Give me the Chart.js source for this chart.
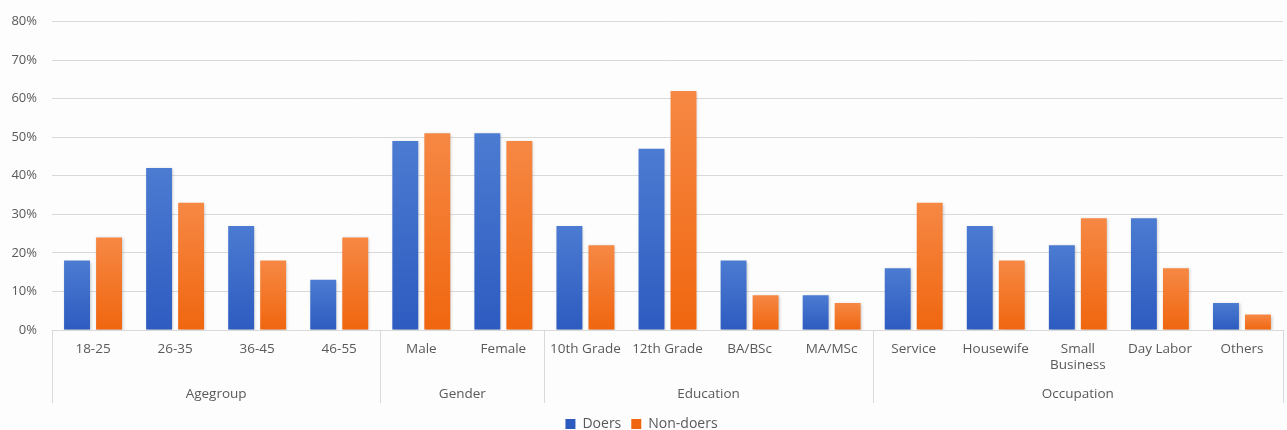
<!DOCTYPE html>
<html>
<head>
<meta charset="utf-8">
<script src="https://cdn.jsdelivr.net/npm/chart.js@4"></script>
<style>
  html, body { margin: 0; padding: 0; background: #fdfdfd; }
  #wrap { width: 1287px; height: 430px; }
</style>
</head>
<body>
<div id="wrap"><canvas id="barChart"></canvas></div>
<script>
// chart values
const categories = [
  "18-25", "26-35", "36-45", "46-55",
  "Male", "Female",
  "10th Grade", "12th Grade", "BA/BSc", "MA/MSc",
  "Service", "Housewife", ["Small", "Business"], "Day Labor", "Others"
];
const groupNames = ["Agegroup", "Gender", "Education", "Occupation"];
const groupSizes = [4, 2, 4, 5];
const doers = [18, 42, 27, 13, 49, 51, 27, 47, 18, 9, 16, 27, 22, 29, 7];
const nonDoers = [24, 33, 18, 24, 51, 49, 22, 62, 9, 7, 33, 18, 29, 16, 4];
const yMax = 80;
const yStep = 10;

const textColor = "#595959";
const lineColor = "#d9d9d9";
const fontFamily = "'Open Sans', sans-serif";

// per-bar vertical gradient, like the office style bars
function barGradient(top, bottom) {
  return function (context) {
    const chart = context.chart;
    if (!chart.chartArea || context.raw == null) return bottom;
    const y = chart.scales.y;
    const g = chart.ctx.createLinearGradient(0, y.getPixelForValue(context.raw), 0, y.getPixelForValue(0));
    g.addColorStop(0, top);
    g.addColorStop(1, bottom);
    return g;
  };
}

// soft shadow behind the bars
const shadowPlugin = {
  id: "barShadow",
  beforeDatasetsDraw(chart) {
    const ctx = chart.ctx;
    ctx.save();
    ctx.shadowColor = "rgba(0,0,0,0.22)";
    ctx.shadowBlur = 3;
    ctx.shadowOffsetX = 1;
    ctx.shadowOffsetY = 1;
  },
  afterDatasetsDraw(chart) {
    chart.ctx.restore();
  }
};

// group row under the category labels, with separators
const groupPlugin = {
  id: "groupAxis",
  afterDraw(chart) {
    const ctx = chart.ctx;
    const x = chart.scales.x;
    const half = (x.right - x.left) / categories.length / 2;
    const top = chart.chartArea.bottom;
    const bottom = top + 73;
    ctx.save();
    ctx.strokeStyle = lineColor;
    ctx.lineWidth = 1;
    ctx.fillStyle = textColor;
    ctx.font = "13.5px " + fontFamily;
    ctx.textAlign = "center";
    ctx.textBaseline = "middle";
    let start = 0;
    const edges = [x.left];
    groupSizes.forEach((size, i) => {
      const end = start + size - 1;
      const left = x.getPixelForValue(start) - half;
      const right = x.getPixelForValue(end) + half;
      edges.push(right);
      ctx.fillText(groupNames[i], (left + right) / 2, top + 64);
      start += size;
    });
    edges.forEach((ex) => {
      const px = Math.round(ex) + 0.5;
      ctx.beginPath();
      ctx.moveTo(px, top);
      ctx.lineTo(px, bottom);
      ctx.stroke();
    });
    ctx.restore();
  }
};

const config = {
  type: "bar",
  data: {
    labels: categories,
    datasets: [
      {
        label: "Doers",
        data: doers,
        backgroundColor: barGradient("#4c7bd2", "#2d5bc0"),
        borderWidth: 0
      },
      {
        label: "Non-doers",
        data: nonDoers,
        backgroundColor: barGradient("#f68844", "#f0660f"),
        borderWidth: 0
      }
    ]
  },
  plugins: [shadowPlugin, groupPlugin],
  options: {
    responsive: true,
    maintainAspectRatio: false,
    animation: false,
    layout: { padding: { top: 20, right: 4, left: 0, bottom: -11 } },
    datasets: {
      bar: { categoryPercentage: 0.78, barPercentage: 0.81 }
    },
    scales: {
      x: {
        grid: { display: false, drawTicks: false },
        border: { display: true, color: lineColor },
        ticks: {
          color: textColor,
          font: { family: fontFamily, size: 13.5 },
          padding: 11,
          maxRotation: 0,
          autoSkip: false
        },
        afterFit(scale) { scale.height = 77; }
      },
      y: {
        min: 0,
        max: yMax,
        grid: { color: lineColor, drawTicks: false },
        border: { display: false },
        ticks: {
          stepSize: yStep,
          color: textColor,
          font: { family: fontFamily, size: 13, lineHeight: 1 },
          padding: 15,
          callback: (v) => v + "%"
        },
        afterFit(scale) { scale.width = 52; }
      }
    },
    plugins: {
      legend: {
        position: "bottom",
        labels: {
          color: textColor,
          font: { family: fontFamily, size: 14 },
          boxWidth: 10,
          boxHeight: 10,
          padding: 10
        }
      },
      tooltip: { enabled: false }
    }
  }
};

new Chart(document.getElementById("barChart"), config);
</script>
</body>
</html>
